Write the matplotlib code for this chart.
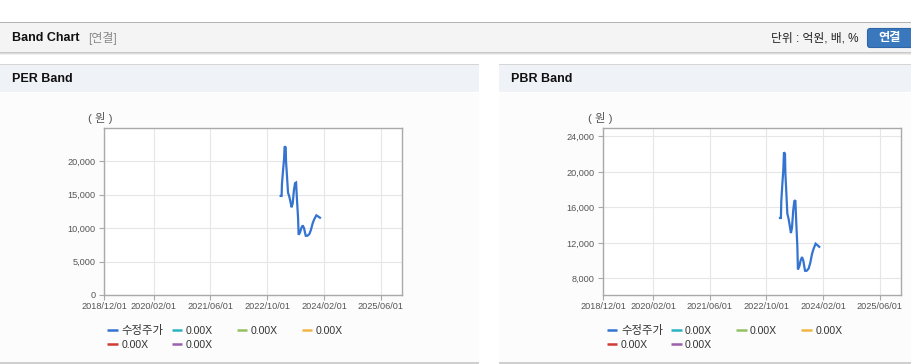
import datetime as dt
import matplotlib
matplotlib.use("Agg")
import matplotlib.pyplot as plt
import matplotlib.dates as mdates
from matplotlib.patches import Rectangle, FancyBboxPatch
from matplotlib.lines import Line2D

plt.rcParams['font.family'] = ['Liberation Sans', 'Noto Sans CJK KR', 'DejaVu Sans']

# ---------------- data ----------------
price_dates = ["2023-01-25", "2023-02-02", "2023-02-05", "2023-02-14", "2023-02-23",
               "2023-02-28", "2023-03-09", "2023-03-12", "2023-03-20", "2023-03-29",
               "2023-04-09", "2023-04-18", "2023-04-29", "2023-05-08", "2023-05-19",
               "2023-05-28", "2023-06-06", "2023-06-14", "2023-06-23", "2023-06-28",
               "2023-07-10", "2023-07-21", "2023-08-02", "2023-08-13", "2023-08-28",
               "2023-09-11", "2023-09-28", "2023-10-12", "2023-10-27", "2023-11-10",
               "2023-11-27", "2023-12-11", "2023-12-28"]
price_values = [14800, 14800, 16600, 18550, 20300,
                22200, 22050, 19950, 17800, 15300,
                14700, 14000, 13100, 13700, 15700,
                16700, 16800, 14200, 11600, 9000,
                9350, 10000, 10400, 10000, 8850,
                8850, 9100, 9750, 10750, 11350,
                11900, 11750, 11550]

x_tick_labels = ["2018/12/01", "2020/02/01", "2021/06/01", "2022/10/01", "2024/02/01", "2025/06/01"]
x_range = ["2018-12-01", "2025-12-01"]

per_yticks = [0, 5000, 10000, 15000, 20000]
per_ylim = [0, 24950]
pbr_yticks = [8000, 12000, 16000, 20000, 24000]
pbr_ylim = [6120, 24940]

legend_labels = ["수정주가", "0.00X", "0.00X", "0.00X", "0.00X", "0.00X"]
legend_colors = ["#3474d0", "#2bb3c4", "#93c160", "#efb545", "#d03a33", "#9b5fab"]

panel_titles = ["PER Band", "PBR Band"]

# ---------------- figure ----------------
W, H = 912, 364
fig = plt.figure(figsize=(W / 100, H / 100), dpi=100)
fig.patch.set_facecolor("white")

bg = fig.add_axes([0, 0, 1, 1])
bg.set_xlim(0, W)
bg.set_ylim(H, 0)
bg.axis("off")


def rect(x, y, w, h, color, z=0):
    bg.add_patch(Rectangle((x, y), w, h, facecolor=color, edgecolor="none", zorder=z))


# top bar
rect(0, 21.5, W, 1.5, "#b4b4b4")
rect(0, 23, W, 29, "#f4f4f4")
rect(0, 52, W, 1, "#c8c8c8")
rect(0, 53, W, 1, "#dcdcdc")
rect(0, 54, W, 1, "#efefef")
bg.text(12, 38, "Band Chart", fontsize=9, fontweight="bold", color="#111111",
        va="center", ha="left")
bg.text(88, 38.5, "[연결]", fontsize=8.6, color="#8a8a8a", va="center", ha="left")
bg.text(859, 38.5, "단위 : 억원, 배, %", fontsize=8.5, color="#222222", va="center", ha="right")
bg.add_patch(FancyBboxPatch((867.5, 28.5), 48, 19, boxstyle="round,pad=0,rounding_size=2.5",
                            facecolor="#3a78be", edgecolor="#2f66a8", lw=0.8, zorder=2))
bg.text(889.5, 38.5, "연결", fontsize=8.8, fontweight="bold", color="white",
        va="center", ha="center", zorder=3)

# panels
panel_x = [(0, 479), (499.5, 912)]
for (x0, x1), title in zip(panel_x, panel_titles):
    rect(x0, 64, x1 - x0, 1.2, "#d6d6d6")
    rect(x0, 65.2, x1 - x0, 27.3, "#eff2f7")
    rect(x0, 92.5, x1 - x0, 269.5, "#fcfcfd")
    rect(x0, 362, x1 - x0, 2, "#cfcfcf")
    bg.text(x0 + 12, 79.5, title, fontsize=9, fontweight="bold", color="#111111",
            va="center", ha="left")

# charts
xmin, xmax = [mdates.date2num(dt.datetime.strptime(d, "%Y-%m-%d")) for d in x_range]
xticks = [mdates.date2num(dt.datetime.strptime(t, "%Y/%m/%d")) for t in x_tick_labels]
px = [mdates.date2num(dt.datetime.strptime(d, "%Y-%m-%d")) for d in price_dates]

ax_top, ax_bot = 128, 295
charts = [
    (104, per_yticks, per_ylim, 88),
    (603.3, pbr_yticks, pbr_ylim, 588),
]
for left, yt, yl, unit_x in charts:
    ax = fig.add_axes([left / W, (H - ax_bot) / H, 298 / W, (ax_bot - ax_top) / H])
    ax.set_facecolor("white")
    ax.plot(px, price_values, color=legend_colors[0], lw=1.6, solid_joinstyle="miter", zorder=3)
    ax.set_xlim(xmin, xmax)
    ax.set_ylim(*yl)
    ax.set_xticks(xticks)
    ax.set_xticklabels(x_tick_labels)
    ax.set_yticks(yt)
    ax.set_yticklabels([f"{v:,}" for v in yt])
    ax.grid(True, color="#e6e6e6", lw=0.8)
    ax.set_axisbelow(True)
    for s in ax.spines.values():
        s.set_color("#a9a9a9")
        s.set_linewidth(1.0)
    ax.tick_params(axis="both", colors="#a9a9a9", labelcolor="#555555", labelsize=6.6,
                   length=3.5, width=0.8)
    ax.tick_params(axis="x", pad=1.5)
    ax.tick_params(axis="y", pad=2.5)
    bg.text(unit_x, 118, "( 원 )", fontsize=8.2, color="#555555", va="center", ha="left")

# legends
legend_cols = [0, 64.4, 129.4, 194.7]
legend_rows = [330, 344]
for base_x in (107.3, 606.7):
    for i, (lab, col) in enumerate(zip(legend_labels, legend_colors)):
        r, c = divmod(i, 4)
        x = base_x + legend_cols[c]
        y = legend_rows[r]
        bg.add_line(Line2D([x, x + 10.5], [y, y], color=col, lw=1.8, solid_capstyle="butt"))
        bg.text(x + 14.5 if i == 0 else x + 14, y + 0.5, lab,
                fontsize=8.2 if i == 0 else 7.6, color="#333333",
                va="center", ha="left")

fig.savefig("out.png", dpi=100, facecolor="white")
